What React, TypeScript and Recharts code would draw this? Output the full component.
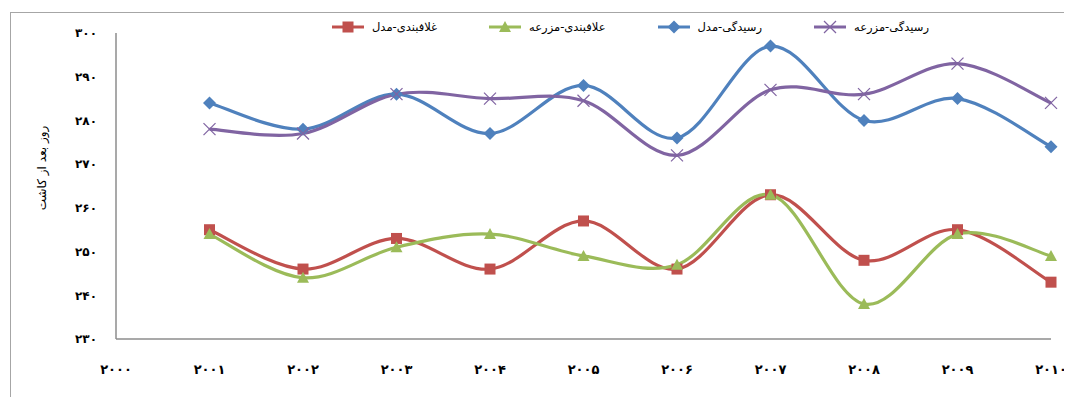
import React from 'react';
import { LineChart, Line, XAxis, YAxis, Legend, Label } from 'recharts';

// years on the axis (2000 has no data, it is only the axis origin)
const AXIS_YEARS = [2000, 2001, 2002, 2003, 2004, 2005, 2006, 2007, 2008, 2009, 2010];
const DATA_YEARS = [2001, 2002, 2003, 2004, 2005, 2006, 2007, 2008, 2009, 2010];
const Y_TICKS = [230, 240, 250, 260, 270, 280, 290, 300];

// days after sowing
const poddingModel = [255, 246, 253, 246, 257, 246, 263, 248, 255, 243];
const poddingField = [254, 244, 251, 254, 249, 247, 263, 238, 254, 249];
const maturityModel = [284, 278, 286, 277, 288, 276, 297, 280, 285, 274];
const maturityField = [278, 277, 286, 285, 284.5, 272, 287, 286, 293, 284];

const SERIES = [
  { key: 'poddingModel', name: 'غلافبندی-مدل', color: '#C0504D', marker: 'square' },
  { key: 'poddingField', name: 'علافبندی-مزرعه', color: '#9BBB59', marker: 'triangle' },
  { key: 'maturityModel', name: 'رسیدگی-مدل', color: '#4F81BD', marker: 'diamond' },
  { key: 'maturityField', name: 'رسیدگی-مزرعه', color: '#8064A2', marker: 'cross' },
];

const chartData = DATA_YEARS.map((year, i) => ({
  year,
  poddingModel: poddingModel[i],
  poddingField: poddingField[i],
  maturityModel: maturityModel[i],
  maturityField: maturityField[i],
}));

const FA_DIGITS = '۰۱۲۳۴۵۶۷۸۹';
const toFa = (n: number | string) => String(n).replace(/\d/g, (d) => FA_DIGITS[Number(d)]);

const FONT = '"DejaVu Sans", sans-serif';

// Excel-like smoothed line (catmull-rom style)
function excelSmooth(context: any) {
  let pts: number[][] = [];
  return {
    areaStart() {},
    areaEnd() {},
    lineStart() {
      pts = [];
    },
    point(x: number, y: number) {
      pts.push([+x, +y]);
    },
    lineEnd() {
      if (!pts.length) return;
      context.moveTo(pts[0][0], pts[0][1]);
      const t = 1 / 6;
      for (let i = 0; i < pts.length - 1; i++) {
        const p0 = pts[i - 1] || pts[i];
        const p1 = pts[i];
        const p2 = pts[i + 1];
        const p3 = pts[i + 2] || p2;
        context.bezierCurveTo(
          p1[0] + (p2[0] - p0[0]) * t,
          p1[1] + (p2[1] - p0[1]) * t,
          p2[0] - (p3[0] - p1[0]) * t,
          p2[1] - (p3[1] - p1[1]) * t,
          p2[0],
          p2[1]
        );
      }
    },
  };
}

function Marker({ kind, cx, cy, color }: { kind: string; cx: number; cy: number; color: string }) {
  if (cx == null || cy == null) return null;
  if (kind === 'square') {
    return <rect x={cx - 5.5} y={cy - 5.5} width={11} height={11} fill={color} />;
  }
  if (kind === 'triangle') {
    return (
      <polygon
        points={`${cx},${cy - 6} ${cx + 6},${cy + 5} ${cx - 6},${cy + 5}`}
        fill={color}
      />
    );
  }
  if (kind === 'diamond') {
    return (
      <polygon
        points={`${cx},${cy - 6.5} ${cx + 6.5},${cy} ${cx},${cy + 6.5} ${cx - 6.5},${cy}`}
        fill={color}
      />
    );
  }
  return (
    <g stroke={color} strokeWidth={1.2}>
      <line x1={cx - 6} y1={cy - 6} x2={cx + 6} y2={cy + 6} />
      <line x1={cx - 6} y1={cy + 6} x2={cx + 6} y2={cy - 6} />
    </g>
  );
}

const renderLegend = () => {
  return (
    <div style={{ display: 'flex', paddingLeft: 332, fontFamily: FONT, fontSize: 11.5 }}>
      {SERIES.map((s) => (
        <div key={s.key} style={{ display: 'flex', alignItems: 'center', marginRight: 52 }}>
          <svg width={32} height={14}>
            <line x1={0} y1={7} x2={32} y2={7} stroke={s.color} strokeWidth={3} />
            <Marker kind={s.marker} cx={16} cy={7} color={s.color} />
          </svg>
          <span dir="rtl" style={{ marginLeft: 8, color: '#000' }}>
            {s.name}
          </span>
        </div>
      ))}
    </div>
  );
};

export default function App() {
  return (
    <div style={{ position: 'relative', width: 1072, height: 405, margin: -8, overflow: 'hidden', background: '#fff' }}>
      <div
        style={{
          position: 'absolute',
          left: 10,
          top: 12,
          width: 1100,
          height: 420,
          border: '1px solid #a6a6a6',
          boxSizing: 'border-box',
        }}
      />
      <div style={{ position: 'absolute', left: 0, top: 0 }}>
        <LineChart width={1072} height={405} data={chartData} margin={{ top: 33, right: 21, bottom: 26, left: 0 }}>
          <XAxis
            dataKey="year"
            type="number"
            domain={[2000, 2010]}
            ticks={AXIS_YEARS}
            tickFormatter={toFa}
            height={40}
            tickSize={0}
            tickMargin={26}
            axisLine={{ stroke: '#8c8c8c', strokeWidth: 1.5 }}
            tick={{ fill: '#000', fontSize: 13, fontWeight: 'bold', fontFamily: FONT }}
          />
          <YAxis
            domain={[230, 300]}
            ticks={Y_TICKS}
            tickFormatter={toFa}
            width={116}
            tickSize={0}
            tickMargin={19}
            axisLine={{ stroke: '#8c8c8c', strokeWidth: 1.5 }}
            tick={{ fill: '#000', fontSize: 12, fontWeight: 'bold', fontFamily: FONT }}
          >
            <Label
              content={() => (
                <text
                  transform="translate(46,168) rotate(-90)"
                  textAnchor="middle"
                  fontSize={12}
                  fontFamily={FONT}
                  fill="#000"
                >
                  روز بعد از کاشت
                </text>
              )}
            />
          </YAxis>
          <Legend
            verticalAlign="middle"
            align="center"
            layout="horizontal"
            wrapperStyle={{ top: 20, left: 0, width: 1072 }}
            content={renderLegend}
          />
          {SERIES.map((s) => (
            <Line
              key={s.key}
              dataKey={s.key}
              name={s.name}
              type={excelSmooth as any}
              stroke={s.color}
              strokeWidth={3.2}
              isAnimationActive={false}
              dot={(p: any) => <Marker key={`${s.key}-${p.index}`} kind={s.marker} cx={p.cx} cy={p.cy} color={s.color} />}
              activeDot={false}
            />
          ))}
        </LineChart>
      </div>
    </div>
  );
}
